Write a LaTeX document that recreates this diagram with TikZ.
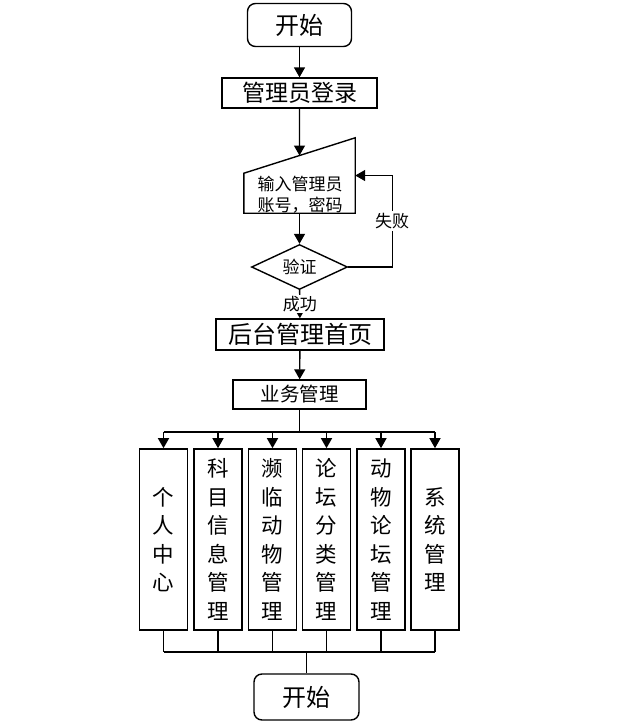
\documentclass[tikz,border=0pt]{standalone}
\usepackage{fontspec}
\setmainfont{Noto Sans CJK SC}
\usepackage{tikz}
\usetikzlibrary{calc,positioning,arrows.meta,shapes.geometric}

\begin{document}
\begin{tikzpicture}[x=1pt, y=-1pt,
  every node/.style={font=\fontsize{17}{19}\selectfont},
  term/.style={draw, rounded corners=8pt, line width=1.4pt, inner sep=0pt,
               minimum width=104pt, minimum height=43pt,
               font=\fontsize{24}{26}\selectfont},
  proc/.style={draw, line width=1.4pt, inner sep=0pt},
  check/.style={draw, diamond, aspect=2.1, line width=1.4pt, inner sep=0pt,
                minimum width=96pt, minimum height=45pt},
  module/.style={draw, line width=1.6pt, inner sep=0pt, align=center,
                 minimum width=48pt, minimum height=181pt,
                 font=\fontsize{21.5}{28.5}\selectfont},
  flow/.style={-{Triangle[length=10pt,width=11pt]}, line width=1.4pt},
  link/.style={line width=1.4pt},
]
\useasboundingbox (0,0) rectangle (640,726);

% Login part
\node[term] (start) at (299.5,25) {开始};
\node[proc, minimum width=155pt, minimum height=30pt,
      font=\fontsize{23}{25}\selectfont] (login) at (299.5,93) {管理员登录};
\node[minimum width=111pt, minimum height=75pt, inner sep=0pt] (input) at (299.5,175.5) {};
\node[align=center, font=\fontsize{17}{21}\selectfont] (intext) at (300,195) {输入管理员\\账号，密码};
\coordinate (inslant) at ($(input.north west)!0.47!(input.south west)$);
\coordinate (intop) at ($(inslant)!0.5!(input.north east)$);
\draw[link] (input.south west) -- (input.south east) -- (input.north east)
  -- (inslant) -- cycle;
\node[check] (verify) at (299.5,267) {验证};

\draw[flow] (start) -- (login);
\draw[flow] (login) -- (intop);
\draw[flow] (input) -- (verify);
\draw[flow] (verify.east) -- ++(44,0) |- (input.east)
  node[pos=0.25, fill=white, inner sep=2pt] {失败};

% Back end
\node[proc, minimum width=168pt, minimum height=31pt,
      font=\fontsize{24}{26}\selectfont] (home) at (300,334.5) {后台管理首页};
\node[proc, minimum width=133pt, minimum height=29pt,
      font=\fontsize{19.5}{21}\selectfont] (biz) at (299.5,394.5) {业务管理};
\draw[flow] (verify) -- (home)
  node[midway, fill=white, inner sep=1pt] {成功};
\draw[flow] (home) -- (biz);

% Modules
\node[module] (m1) at (163.5,539.5) {个\\人\\中\\心};
\node[module] (m2) at (218,539.5) {科\\目\\信\\息\\管\\理};
\node[module] (m3) at (272.5,539.5) {濒\\临\\动\\物\\管\\理};
\node[module] (m4) at (326.5,539.5) {论\\坛\\分\\类\\管\\理};
\node[module] (m5) at (381,539.5) {动\\物\\论\\坛\\管\\理};
\node[module] (m6) at (435,539.5) {系\\统\\管\\理};

\coordinate (split) at (299.5,432);
\draw[link] (biz) -- (split);
\draw[link] (m1.north |- split) -- (m6.north |- split);
\draw[flow] (m1.north |- split) -- (m1);
\draw[flow] (m2.north |- split) -- (m2);
\draw[flow] (m3.north |- split) -- (m3);
\draw[flow] (m4.north |- split) -- (m4);
\draw[flow] (m5.north |- split) -- (m5);
\draw[flow] (m6.north |- split) -- (m6);

% End
\node[term, minimum width=105pt, minimum height=46pt] (end) at (306.5,697) {开始};
\coordinate (join) at (306.5,652);
\draw[link] (m1) -- (m1.south |- join);
\draw[link] (m2) -- (m2.south |- join);
\draw[link] (m3) -- (m3.south |- join);
\draw[link] (m4) -- (m4.south |- join);
\draw[link] (m5) -- (m5.south |- join);
\draw[link] (m6) -- (m6.south |- join);
\draw[link] (m1.south |- join) -- (m6.south |- join);
\draw[link] (join) -- (end);

\end{tikzpicture}
\end{document}
